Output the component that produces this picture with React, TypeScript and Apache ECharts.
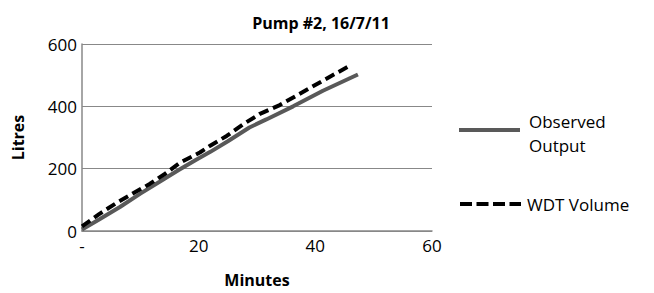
import React, { useEffect, useRef } from "react";
import * as echarts from "echarts";

const observedMinutes = [0, 3, 6.5, 10, 13.3, 16.5, 19.5, 22, 25, 28.7, 31.6, 36.2, 41.3, 47.3];
const observedLitres = [5, 38, 77, 120, 158, 195, 228, 254, 288, 332, 358, 400, 450, 502];
const wdtMinutes = [0, 3, 5.9, 8.7, 11.6, 14.2, 16.7, 20.2, 21.9, 24.8, 27.6, 30.5, 33.9, 39, 42.5, 45.6];
const wdtLitres = [15, 55, 90, 120, 151, 183, 218, 252, 273, 305, 342, 376, 404, 458, 495, 527];
const seriesNames = ["Observed Output", "WDT Volume"];
const titleText = "Pump #2, 16/7/11";
const xName = "Minutes";
const yName = "Litres";

const FONT = "'Open Sans', sans-serif";

export default function App() {
  const ref = useRef<HTMLDivElement>(null);
  useEffect(() => {
    if (!ref.current) return;
    const chart = echarts.init(ref.current, null, { renderer: "svg" });
    const pair = (xs: number[], ys: number[]) => xs.map((x, i) => [x, ys[i]]);
    chart.setOption({
      animation: false,
      backgroundColor: "#ffffff",
      title: {
        text: titleText,
        left: 316,
        textAlign: "center",
        top: 10,
        textStyle: { fontFamily: FONT, fontSize: 16, fontWeight: "bold", color: "#000" },
      },
      grid: { left: 82, right: 222, top: 44, bottom: 61 },
      xAxis: {
        type: "value",
        min: 0,
        max: 60,
        interval: 20,
        name: xName,
        nameLocation: "middle",
        nameGap: 41,
        nameTextStyle: { fontFamily: FONT, fontSize: 16, fontWeight: "bold", color: "#000" },
        axisLine: { show: true, lineStyle: { color: "#888", width: 1.5 } },
        axisTick: { show: false },
        splitLine: { show: false },
        axisLabel: {
          fontFamily: FONT,
          fontSize: 17,
          color: "#000",
          margin: 6,
          formatter: (v: number) => (v === 0 ? "-" : String(v)),
        },
      },
      yAxis: {
        type: "value",
        min: 0,
        max: 600,
        interval: 200,
        name: yName,
        nameLocation: "middle",
        nameGap: 56,
        nameRotate: 90,
        nameTextStyle: { fontFamily: FONT, fontSize: 16, fontWeight: "bold", color: "#000" },
        axisLine: { show: true, lineStyle: { color: "#888", width: 1.5 } },
        axisTick: { show: false },
        splitLine: { show: true, lineStyle: { color: "#888", width: 1.2 } },
        axisLabel: { fontFamily: FONT, fontSize: 17, color: "#000", margin: 5 },
      },
      series: [
        {
          name: seriesNames[0],
          type: "line",
          data: pair(observedMinutes, observedLitres),
          showSymbol: false,
          symbol: "none",
          lineStyle: { color: "#595959", width: 4 },
          z: 2,
        },
        {
          name: seriesNames[1],
          type: "line",
          data: pair(wdtMinutes, wdtLitres),
          showSymbol: false,
          symbol: "none",
          lineStyle: { color: "#000000", width: 4, type: [10, 5] },
          z: 3,
        },
      ],
      graphic: [
        {
          type: "line",
          shape: { x1: 459, y1: 130, x2: 520, y2: 130 },
          style: { stroke: "#595959", lineWidth: 4 },
        },
        {
          type: "text",
          x: 529,
          y: 133,
          style: {
            text: "Observed\nOutput",
            font: `17px ${FONT}`,
            fill: "#000",
            verticalAlign: "middle",
            lineHeight: 24,
          },
        },
        {
          type: "line",
          shape: { x1: 460, y1: 204, x2: 521, y2: 204 },
          style: { stroke: "#000", lineWidth: 4, lineDash: [12, 4.5] },
        },
        {
          type: "text",
          x: 527,
          y: 204,
          style: {
            text: "WDT Volume",
            font: `17px ${FONT}`,
            fill: "#000",
            verticalAlign: "middle",
          },
        },
      ],
    });
    return () => chart.dispose();
  }, []);
  return (
    <div
      ref={ref}
      style={{ position: "absolute", left: 0, top: 0, width: 654, height: 293 }}
    />
  );
}
